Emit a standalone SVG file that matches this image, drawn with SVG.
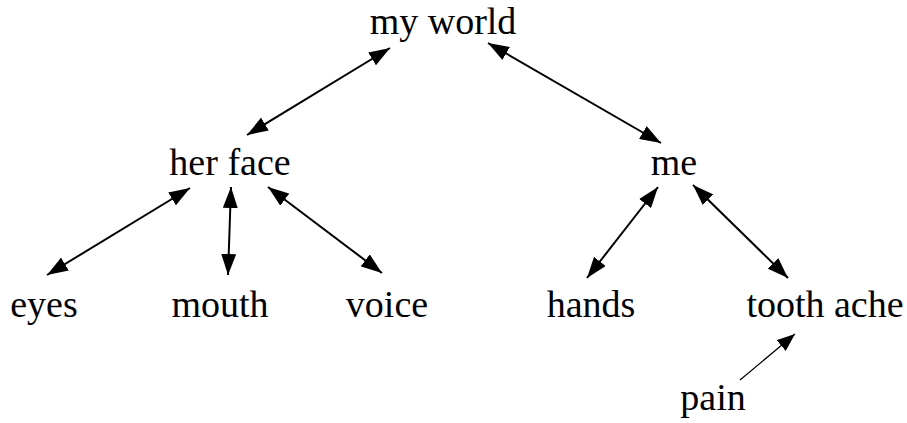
<svg xmlns="http://www.w3.org/2000/svg" width="907" height="423" viewBox="0 0 907 423">
<style>
text{font-family:"Liberation Serif","Times New Roman",serif;font-size:38px;fill:#000;text-anchor:middle}
.c{stroke:#000;stroke-width:2;fill:none;marker-start:url(#ah);marker-end:url(#ah)}
.t{stroke:#000;stroke-width:1.2;fill:none;marker-end:url(#ah2)}
</style>
<defs>
<marker id="ah" viewBox="0 0 21 15" refX="21" refY="7.5" markerWidth="21" markerHeight="15" markerUnits="userSpaceOnUse" orient="auto-start-reverse"><path d="M0,0L21,7.5L0,15z" fill="#000"/></marker>
<marker id="ah2" viewBox="0 0 18 14" refX="18" refY="7" markerWidth="18" markerHeight="14" markerUnits="userSpaceOnUse" orient="auto"><path d="M0,0L18,7L0,14z" fill="#000"/></marker>
</defs>
<g id="connectors">
<line class="c" x1="390" y1="48" x2="247" y2="135"/>
<line class="c" x1="488" y1="43" x2="661" y2="143"/>
<line class="c" x1="190" y1="188" x2="47" y2="275"/>
<line class="c" x1="231" y1="187" x2="228" y2="275"/>
<line class="c" x1="268" y1="187" x2="382" y2="273"/>
<line class="c" x1="658" y1="187" x2="587" y2="278"/>
<line class="c" x1="693" y1="185" x2="788" y2="278"/>
<line class="t" x1="740" y1="380" x2="795" y2="334"/>
</g>
<g id="n-myworld"><text x="443" y="34">my world</text></g>
<g id="n-herface"><text x="230" y="175">her face</text></g>
<g id="n-me"><text x="674" y="175">me</text></g>
<g id="n-eyes"><text x="44" y="317">eyes</text></g>
<g id="n-mouth"><text x="220" y="317">mouth</text></g>
<g id="n-voice"><text x="387" y="317">voice</text></g>
<g id="n-hands"><text x="591" y="317">hands</text></g>
<g id="n-toothache"><text x="825" y="317">tooth ache</text></g>
<g id="n-pain"><text x="713" y="410">pain</text></g>
</svg>
